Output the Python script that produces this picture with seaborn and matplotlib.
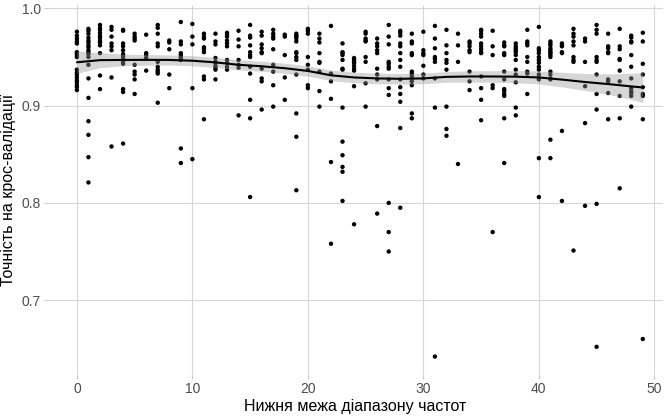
import matplotlib
matplotlib.use("Agg")
import matplotlib.pyplot as plt
import seaborn as sns
import pandas as pd

# ---- data ----
# cross-validation accuracy values for each lower bound of the frequency range (0..49)
accuracy = [
    [0.976, 0.972, 0.969, 0.966, 0.964, 0.955, 0.954, 0.952, 0.950, 0.937, 0.934, 0.932, 0.929, 0.926, 0.924, 0.921, 0.919, 0.916],
    [0.979, 0.977, 0.974, 0.970, 0.967, 0.965, 0.962, 0.960, 0.957, 0.955, 0.953, 0.950, 0.942, 0.928, 0.908, 0.884, 0.870, 0.847, 0.821],
    [0.983, 0.980, 0.978, 0.975, 0.972, 0.970, 0.967, 0.965, 0.962, 0.954, 0.931, 0.917],
    [0.981, 0.978, 0.971, 0.964, 0.961, 0.957, 0.929, 0.858],
    [0.978, 0.977, 0.964, 0.961, 0.957, 0.953, 0.951, 0.949, 0.945, 0.943, 0.917, 0.914, 0.861],
    [0.974, 0.971, 0.969, 0.967, 0.942, 0.935, 0.932, 0.927, 0.912],
    [0.973, 0.954, 0.952, 0.949, 0.936],
    [0.983, 0.980, 0.974, 0.964, 0.961, 0.945, 0.940, 0.937, 0.935, 0.933, 0.903],
    [0.967, 0.965, 0.958, 0.932, 0.918],
    [0.986, 0.966, 0.963, 0.954, 0.952, 0.950, 0.949, 0.947, 0.856, 0.841],
    [0.984, 0.971, 0.963, 0.918, 0.845],
    [0.974, 0.971, 0.969, 0.960, 0.958, 0.955, 0.930, 0.927, 0.886],
    [0.974, 0.966, 0.963, 0.949, 0.945, 0.944, 0.941, 0.939, 0.937, 0.927],
    [0.975, 0.973, 0.971, 0.967, 0.964, 0.961, 0.947, 0.944, 0.940, 0.937],
    [0.977, 0.968, 0.961, 0.947, 0.942, 0.939, 0.890],
    [0.983, 0.972, 0.970, 0.962, 0.955, 0.952, 0.950, 0.940, 0.933, 0.906, 0.887, 0.806],
    [0.976, 0.972, 0.963, 0.959, 0.955, 0.954, 0.938, 0.928, 0.925, 0.896],
    [0.978, 0.974, 0.971, 0.969, 0.958, 0.942, 0.935, 0.921, 0.899],
    [0.973, 0.971, 0.952, 0.929, 0.906],
    [0.974, 0.972, 0.971, 0.969, 0.966, 0.955, 0.954, 0.950, 0.947, 0.932, 0.892, 0.868, 0.813],
    [0.979, 0.977, 0.974, 0.950, 0.942, 0.937, 0.921, 0.918],
    [0.974, 0.969, 0.965, 0.954, 0.945, 0.944, 0.935, 0.915, 0.899],
    [0.982, 0.933, 0.925, 0.907, 0.842, 0.758],
    [0.964, 0.955, 0.954, 0.952, 0.947, 0.938, 0.937, 0.898, 0.863, 0.849, 0.837, 0.832, 0.802],
    [0.949, 0.947, 0.945, 0.944, 0.941, 0.938, 0.936, 0.920, 0.778],
    [0.976, 0.974, 0.969, 0.967, 0.966, 0.950, 0.945, 0.923, 0.899],
    [0.969, 0.964, 0.961, 0.957, 0.954, 0.938, 0.932, 0.927, 0.879, 0.789],
    [0.983, 0.971, 0.963, 0.945, 0.943, 0.940, 0.938, 0.927, 0.918, 0.911, 0.800, 0.770, 0.750],
    [0.977, 0.975, 0.972, 0.964, 0.961, 0.954, 0.947, 0.940, 0.927, 0.919, 0.912, 0.904, 0.877, 0.795],
    [0.974, 0.966, 0.964, 0.954, 0.952, 0.935, 0.933, 0.930, 0.925, 0.921, 0.892, 0.887],
    [0.976, 0.957, 0.954, 0.952, 0.941, 0.932, 0.928],
    [0.982, 0.969, 0.959, 0.950, 0.948, 0.945, 0.928, 0.898, 0.642],
    [0.978, 0.962, 0.954, 0.947, 0.944, 0.937, 0.899, 0.876, 0.869],
    [0.974, 0.962, 0.945, 0.840],
    [0.966, 0.964, 0.961, 0.957, 0.955, 0.935, 0.925, 0.916],
    [0.978, 0.977, 0.974, 0.971, 0.964, 0.961, 0.958, 0.955, 0.954, 0.930, 0.918, 0.906, 0.885],
    [0.977, 0.961, 0.952, 0.921, 0.918, 0.770],
    [0.965, 0.962, 0.961, 0.954, 0.952, 0.935, 0.927, 0.917, 0.915, 0.912, 0.910, 0.887, 0.841],
    [0.964, 0.961, 0.959, 0.957, 0.955, 0.952, 0.947, 0.937, 0.932, 0.924, 0.898, 0.890],
    [0.978, 0.966, 0.964, 0.962, 0.950, 0.945, 0.935, 0.933, 0.912],
    [0.981, 0.959, 0.957, 0.954, 0.950, 0.947, 0.944, 0.940, 0.937, 0.932, 0.928, 0.927, 0.846, 0.806],
    [0.966, 0.964, 0.962, 0.959, 0.957, 0.955, 0.954, 0.952, 0.950, 0.935, 0.932, 0.928, 0.927, 0.865, 0.846],
    [0.964, 0.962, 0.961, 0.955, 0.954, 0.874, 0.802],
    [0.979, 0.974, 0.971, 0.966, 0.962, 0.950, 0.947, 0.945, 0.751],
    [0.969, 0.966, 0.945, 0.920, 0.882, 0.797],
    [0.983, 0.978, 0.974, 0.950, 0.947, 0.945, 0.932, 0.912, 0.896, 0.799, 0.652],
    [0.974, 0.961, 0.959, 0.955, 0.954, 0.927, 0.925, 0.913, 0.886],
    [0.979, 0.961, 0.958, 0.948, 0.947, 0.936, 0.925, 0.910, 0.887, 0.815],
    [0.972, 0.970, 0.966, 0.965, 0.952, 0.940, 0.928, 0.918, 0.915, 0.913, 0.910, 0.899],
    [0.975, 0.966, 0.943, 0.932, 0.919, 0.912, 0.910, 0.886, 0.660],
]

# smoothed trend with its confidence band
smooth_x = [0, 2, 4, 6, 8, 10, 12, 14, 16, 18, 20, 22, 24, 26, 28, 30, 32, 34, 36, 38, 40, 42, 44, 46, 48, 49]
smooth_fit = [0.9446, 0.9468, 0.9470, 0.9471, 0.9470, 0.9462, 0.9445, 0.9420, 0.9405, 0.9385, 0.9357, 0.9312,
              0.9290, 0.9280, 0.9276, 0.9280, 0.9296, 0.9300, 0.9300, 0.9298, 0.9290, 0.9268, 0.9243, 0.9222,
              0.9198, 0.9187]
smooth_halfwidth = [0.0115, 0.0078, 0.0060, 0.0054, 0.0052, 0.0052, 0.0052, 0.0052, 0.0052, 0.0052, 0.0053,
                    0.0054, 0.0055, 0.0055, 0.0055, 0.0055, 0.0055, 0.0058, 0.0060, 0.0063, 0.0067, 0.0075,
                    0.0087, 0.0105, 0.0135, 0.0155]

x_ticks = [0, 10, 20, 30, 40, 50]
y_ticks = [0.7, 0.8, 0.9, 1.0]
x_label = "Нижня межа діапазону частот"
y_label = "Точність на крос-валідації"

# ---- build table ----
df = pd.DataFrame({
    "bound": [i for i, vals in enumerate(accuracy) for _ in vals],
    "acc": [v for vals in accuracy for v in vals],
})
smooth_lo = [f - h for f, h in zip(smooth_fit, smooth_halfwidth)]
smooth_hi = [f + h for f, h in zip(smooth_fit, smooth_halfwidth)]

# ---- plot ----
sns.set_theme(style="whitegrid")
plt.rcParams["font.family"] = ["Liberation Sans", "DejaVu Sans"]

fig = plt.figure(figsize=(6.65, 4.17), dpi=100)
ax = fig.add_axes([0.0722, 0.1007, 0.9248, 0.8873])

sns.scatterplot(data=df, x="bound", y="acc", s=10, color="black", edgecolor="none",
                linewidth=0, ax=ax, zorder=3)
ax.fill_between(smooth_x, smooth_lo, smooth_hi, color="#999999", alpha=0.4, linewidth=0, zorder=4)
sns.lineplot(x=smooth_x, y=smooth_fit, color="black", linewidth=1.5, ax=ax, zorder=5)

ax.set_xlim(-2.5, 50.75)
ax.set_ylim(0.623, 1.0035)
ax.set_xticks(x_ticks)
ax.set_yticks(y_ticks)
ax.set_yticklabels([f"{t:.1f}" for t in y_ticks])

ax.grid(True, color="#d6d6d6", linewidth=0.8)
ax.set_axisbelow(True)
for sp in ax.spines.values():
    sp.set_visible(False)
ax.set_facecolor("white")
ax.tick_params(axis="both", length=3, width=0.8, color="#c8c8c8", labelcolor="#4d4d4d",
               labelsize=10, pad=2, left=True, bottom=True)

ax.set_xlabel(x_label, fontsize=11.5, color="black", labelpad=2)
ax.set_ylabel(y_label, fontsize=11.5, color="black", labelpad=4)

fig.savefig("out.png", dpi=100, facecolor="white")
